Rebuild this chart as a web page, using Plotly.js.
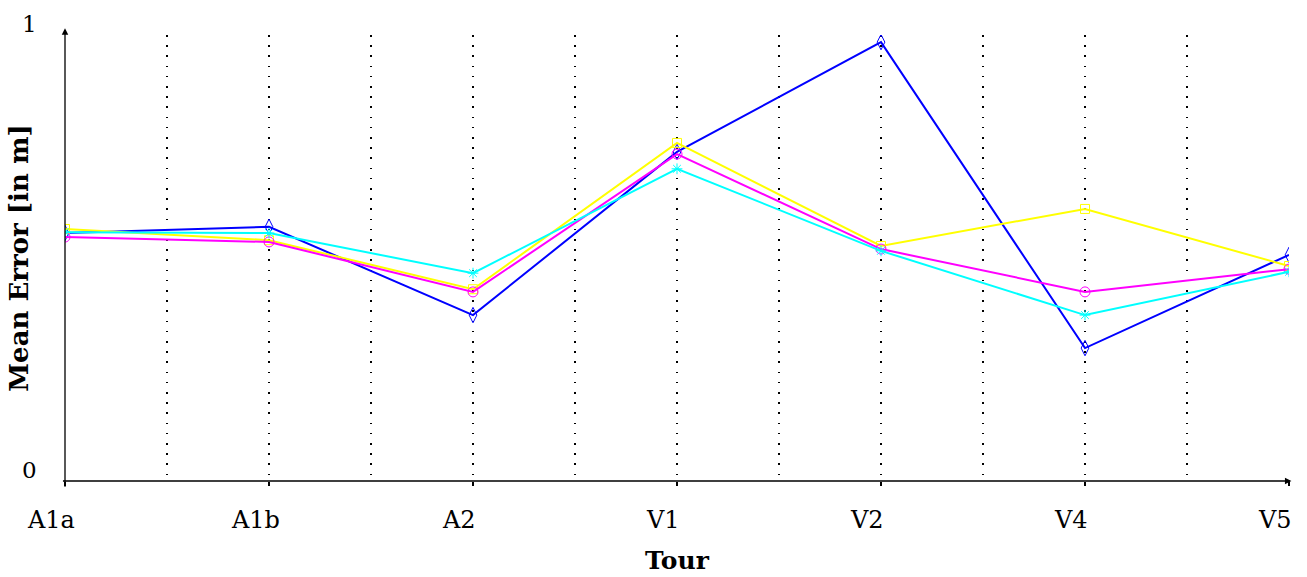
<!DOCTYPE html>
<html>
<head>
<meta charset="utf-8">
<script src="https://cdn.plot.ly/plotly-3.0.1.min.js"></script>
<style>html,body{margin:0;padding:0;background:#fff;}#chart{width:1307px;height:577px;}</style>
</head>
<body>
<div id="chart"></div>
<script>
const categories = ["A1a", "A1b", "A2", "V1", "V2", "V4", "V5"];
const blueValues    = [0.556, 0.570, 0.372, 0.738, 0.984, 0.298, 0.507];
const yellowValues  = [0.565, 0.540, 0.430, 0.758, 0.527, 0.610, 0.482];
const magentaValues = [0.547, 0.536, 0.424, 0.733, 0.520, 0.424, 0.475];
const cyanValues    = [0.558, 0.556, 0.466, 0.700, 0.516, 0.372, 0.469];
const yTickValues = [0, 1];
const yTickLabels = ["0", "1"];

const xIdx = categories.map((c, i) => i);
const serif = "DejaVu Serif, Liberation Serif, serif";

function series(vals, color, symbol, size) {
  return {
    x: xIdx, y: vals, type: "scatter", mode: "lines+markers",
    line: {color: color, width: 2},
    marker: {symbol: symbol, size: size, color: color, line: {color: color, width: 1}},
    showlegend: false, hoverinfo: "skip"
  };
}

const data = [
  series(blueValues, "#0000ff", "diamond-tall-open", 11),
  series(yellowValues, "#ffff00", "square-open", 9),
  series(magentaValues, "#ff00ff", "circle-open", 10),
  series(cyanValues, "#00ffff", "asterisk-open", 9)
];

const annotations = yTickValues.map((v, i) => ({
  x: 0, xref: "paper", y: v, yref: "y", text: yTickLabels[i],
  showarrow: false, xanchor: "right", yanchor: "middle",
  xshift: -26, yshift: 11, font: {family: serif, size: 23, color: "#000"}
}));
categories.forEach((c, i) => annotations.push({
  x: xIdx[i], xref: "x", y: 0, yref: "paper", text: c,
  showarrow: false, xanchor: "center", yanchor: "middle",
  xshift: -14, yshift: -39, font: {family: serif, size: 24, color: "#000"}
}));
annotations.push({
  x: 0, xref: "paper", y: 1.015, yref: "paper", text: "", showarrow: true,
  ax: 0, ay: 460, arrowhead: 2, arrowsize: 1, arrowwidth: 1.3, arrowcolor: "#000"
});
annotations.push({
  x: 1.002, xref: "paper", y: 0, yref: "paper", text: "", showarrow: true,
  ax: -1230, ay: 0, arrowhead: 2, arrowsize: 1, arrowwidth: 1.3, arrowcolor: "#000"
});

const layout = {
  width: 1307, height: 577,
  margin: {l: 65, r: 18, t: 35, b: 96},
  paper_bgcolor: "#fff", plot_bgcolor: "#fff",
  font: {family: serif, color: "#000"},
  xaxis: {
    range: [0, 6], tickmode: "array", tickvals: xIdx, ticktext: categories,
    showticklabels: false,
    showline: false, zeroline: false,
    ticks: "outside", ticklen: 4, tickwidth: 1.3, tickcolor: "#000",
    showgrid: true, gridcolor: "#000", gridwidth: 1.6, griddash: "1.6px,8.6px",
    minor: {dtick: 0.5, tick0: 0, showgrid: true, gridcolor: "#000", gridwidth: 1.6, griddash: "1.6px,8.6px", ticks: ""},
    title: {text: "<b>Tour</b>", font: {family: serif, size: 25, color: "#000"}, standoff: 66}
  },
  yaxis: {
    range: [0, 1], showticklabels: false, ticks: "", showgrid: false,
    zeroline: false, showline: false,
    title: {text: "<b>Mean Error [in m]</b>", font: {family: serif, size: 26, color: "#000"}, standoff: 27}
  },
  annotations: annotations
};

Plotly.newPlot("chart", data, layout, {displayModeBar: false, staticPlot: true});
</script>
</body>
</html>
